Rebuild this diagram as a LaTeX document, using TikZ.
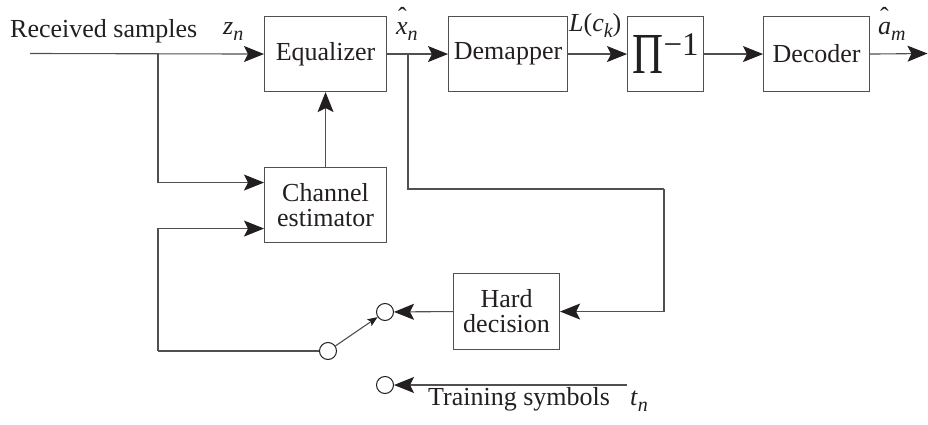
\documentclass[tikz,border=0pt]{standalone}
\usepackage{fontspec}
\setmainfont{Liberation Serif}
\usetikzlibrary{arrows.meta}
\definecolor{ink}{HTML}{231F20}
\definecolor{wire}{HTML}{505050}
% italic subscript, lowered
\newcommand\sbs[1]{\raisebox{-6pt}{\fontsize{20}{20}\selectfont\itshape #1}}
% circumflex set well above a letter
\newcommand\hatted[1]{\makebox[0pt][l]{\raisebox{9pt}{\hspace{2pt}\upshape ˆ}}#1}
\begin{document}
\begin{tikzpicture}[x=1pt,y=-1pt,
  font=\fontsize{26}{25}\selectfont,
  every node/.style={text=ink},
  box/.style={draw=wire, line width=1.1pt, anchor=north west, inner sep=0pt,
              minimum height=75pt, align=center},
  port/.style={circle, draw=ink, line width=1pt, fill=white, minimum size=17pt, inner sep=0pt},
  wireline/.style={draw=wire, line width=1.1pt},
  arr/.style={wireline, -{Stealth[length=20pt, width=16pt, inset=4pt, color=ink]}},
  sarr/.style={wireline, -{Stealth[length=10pt, width=8pt, inset=2pt, color=ink]}},
  lab/.style={anchor=base west, inner sep=0pt}]
\useasboundingbox (0,0) rectangle (928,425);

% blocks
\node[box, minimum width=122pt] (eq)  at (264,16) {Equalizer};
\node[box, minimum width=119pt] (dem) at (448,16) {Demapper};
\node[box, minimum width=76pt]  (pi)  at (627,16)
  {\resizebox{31pt}{38pt}{Π}\raisebox{18pt}{\fontsize{33}{33}\selectfont −1}};
\node[box, minimum width=106pt] (dec) at (763,16) {Decoder};
\node[box, minimum width=122pt] (est) at (264,167) {Channel\\estimator};
\node[box, minimum width=106pt, minimum height=76pt] (hd) at (453,273) {Hard\\decision};

% switch contacts
\node[port] (swa) at (385,312) {};
\node[port] (swb) at (328,351) {};
\node[port] (trc) at (385,385) {};

% wire end points and branch points
\coordinate (in)  at (30,53.5);
\coordinate (br1) at (158,53.5);
\coordinate (br2) at (408,53.5);
\coordinate (out) at (927.5,53.5);
\coordinate (fbr) at (664,189);
\coordinate (fbl) at (158,351);
\coordinate (trs) at (627,385);

% forward path
\draw[arr] (in) -- (eq.west);
\draw[arr] (eq.east) -- (dem.west);
\draw[arr] (dem.east) -- (pi.west);
\draw[arr] (pi.east) -- (dec.west);
\draw[arr] (dec.east) -- (out);

% channel estimation loop
\draw[arr] (br1) |- ([yshift=22.5pt]est.west);
\draw[arr] (est.north) -- (eq.south);
\draw[wireline] (br2) |- (fbr);
\draw[arr] (fbr) |- (hd.east);
\draw[arr] (hd.west) -- (swa);
\draw[sarr] (swb) -- (swa);
\draw[wireline] (swb) -- (fbl);
\draw[arr] (fbl) |- ([yshift=-23.5pt]est.west);
\draw[arr] (trs) -- (trc);

% labels
\node[lab] (lrx) at (10,38) {Received samples};
\node[lab] (lz)  at (223,35) {\textit{z}\sbs{n}};
\node[lab] (lx)  at (396,35) {\itshape\hatted{x}\sbs{n}};
\node[lab] (lL)  at (569,32) {\textit{L}(\textit{c}\sbs{k})};
\node[lab] (la)  at (878,35) {\itshape\hatted{a}\sbs{m}};
\node[lab] (ltr) at (428,405) {Training symbols};
\node[lab] (lt)  at (630,405) {\textit{t}\sbs{n}};
\end{tikzpicture}
\end{document}
